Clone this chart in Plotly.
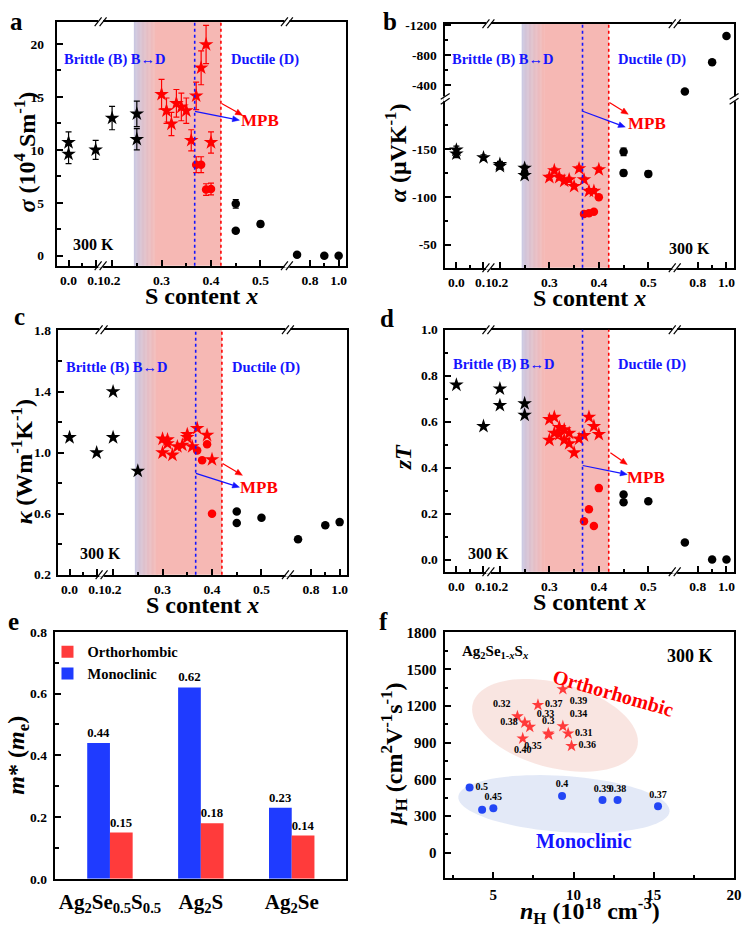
import numpy as np
import plotly.graph_objects as go

W, H = 750, 936
FONT = "Liberation Serif"
RED = "#FF0000"
BLUE = "#1414FF"
PINK = (246, 184, 180)
LAV = (198, 200, 228)

# ---------------- data (panel a: sigma, 10^4 S/m) ----------------
sig_bstar_x = [0.0, 0.0, 0.1, 0.2, 0.25, 0.25]
sig_bstar_y = [10.7, 9.6, 10.0, 13.0, 13.4, 11.0]
sig_bstar_e = [1.0, 0.9, 0.9, 1.1, 1.2, 1.0]
sig_rstar_x = [0.30, 0.31, 0.32, 0.33, 0.34, 0.35, 0.36, 0.37, 0.38, 0.39, 0.40]
sig_rstar_y = [15.25, 13.7, 12.45, 14.4, 14.05, 13.7, 10.9, 15.1, 17.75, 19.95, 10.7]
sig_rstar_e = [1.4, 1.2, 1.1, 1.3, 1.3, 1.2, 1.0, 1.3, 1.6, 1.8, 1.0]
sig_rcirc_x = [0.37, 0.38, 0.39, 0.40]
sig_rcirc_y = [8.6, 8.6, 6.25, 6.3]
sig_rcirc_e = [0.75, 0.75, 0.55, 0.55]
sig_bcirc_x = [0.45, 0.45, 0.5, 0.71, 0.9, 1.0]
sig_bcirc_y = [4.9, 2.35, 3.0, 0.1, 0.0, 0.0]
sig_bcirc_e = [0.4, 0.2, 0.25, 0.0, 0.0, 0.0]

# ---------------- panel b: alpha (uV/K) ----------------
alp_bstar_x = [0.0, 0.0, 0.1, 0.2, 0.2, 0.25, 0.25]
alp_bstar_y = [-149, -145, -141, -134, -132, -130, -122.5]
alp_bstar_e = [4, 4, 3, 3, 3, 3, 3]
alp_rstar_x = [0.30, 0.31, 0.32, 0.33, 0.34, 0.35, 0.36, 0.37, 0.38, 0.39, 0.40]
alp_rstar_y = [-120.5, -127.5, -120.5, -116.5, -118, -111, -129.5, -118, -106, -106, -128.5]
alp_rstar_e = [2.5] * 11
alp_rcirc_x = [0.37, 0.38, 0.39, 0.40]
alp_rcirc_y = [-82, -83, -84.5, -99.5]
alp_bcirc_x = [0.45, 0.45, 0.5, 0.71, 0.9, 1.0]
alp_bcirc_y = [-147, -125, -124, -315, -705, -1056]
alp_bcirc_e = [4, 3, 3, 0, 0, 0]

# ---------------- panel c: kappa (W/mK) ----------------
kap_bstar_x = [0.0, 0.1, 0.2, 0.2, 0.25]
kap_bstar_y = [1.10, 1.00, 1.40, 1.10, 0.88]
kap_rstar_x = [0.30, 0.30, 0.31, 0.31, 0.32, 0.33, 0.34, 0.35, 0.35, 0.36, 0.37, 0.39, 0.40]
kap_rstar_y = [1.09, 1.00, 1.085, 1.06, 0.985, 1.04, 1.05, 1.12, 1.10, 1.04, 1.16, 1.115, 0.955]
kap_rcirc_x = [0.37, 0.38, 0.39, 0.40]
kap_rcirc_y = [1.015, 0.95, 1.056, 0.60]
kap_bcirc_x = [0.45, 0.45, 0.5, 0.71, 0.9, 1.0]
kap_bcirc_y = [0.614, 0.54, 0.573, 0.433, 0.524, 0.545]

# ---------------- panel d: zT ----------------
zt_bstar_x = [0.0, 0.1, 0.2, 0.2, 0.25, 0.25]
zt_bstar_y = [0.76, 0.58, 0.743, 0.671, 0.679, 0.629]
zt_rstar_x = [0.30, 0.30, 0.31, 0.31, 0.32, 0.32, 0.33, 0.33, 0.34, 0.34, 0.35, 0.36, 0.37, 0.38, 0.39, 0.40]
zt_rstar_y = [0.61, 0.52, 0.62, 0.55, 0.575, 0.545, 0.565, 0.52, 0.55, 0.505, 0.465, 0.525, 0.54, 0.62, 0.58, 0.545]
zt_rcirc_x = [0.37, 0.38, 0.39, 0.40]
zt_rcirc_y = [0.167, 0.219, 0.146, 0.311]
zt_bcirc_x = [0.45, 0.45, 0.5, 0.71, 0.9, 1.0]
zt_bcirc_y = [0.283, 0.25, 0.254, 0.074, 0.0, 0.0]

# ---------------- panel e: effective mass ----------------
e_cats = ["Ag<sub>2</sub>Se<sub>0.5</sub>S<sub>0.5</sub>", "Ag<sub>2</sub>S", "Ag<sub>2</sub>Se"]
e_mono = [0.44, 0.62, 0.23]
e_ortho = [0.15, 0.18, 0.14]

# ---------------- panel f: mobility vs carrier conc. ----------------
f_o_lab = ["0.39", "0.37", "0.32", "0.38", "0.33", "0.3", "0.35", "0.34", "0.31", "0.40", "0.36"]
f_o_n = [9.33, 7.78, 6.50, 6.96, 7.27, 8.42, 8.45, 9.33, 9.66, 6.83, 9.87]
f_o_mu = [1338, 1209, 1115, 1064, 1029, 975, 965, 1035, 975, 934, 873]
f_m_lab = ["0.5", "", "0.45", "0.4", "0.39", "0.38", "0.37"]
f_m_n = [3.52, 4.30, 5.0, 9.28, 11.8, 12.74, 15.26]
f_m_mu = [532, 351, 363, 464, 430, 430, 379]

# x-axis tick values (S content) and region boundaries
x_major = [0.0, 0.1, 0.2, 0.3, 0.4, 0.5, 0.8, 1.0]
x_major_txt = ["0.0", "0.1", "0.2", "0.3", "0.4", "0.5", "0.8", "1.0"]
x_minor = [0.05, 0.25, 0.35, 0.45, 0.9]
grad_start, grad_end, mpb_blue, mpb_red = 0.244, 0.29, 0.367, 0.42


# ---------------- broken-axis scales ----------------
def xmap(x):
    x = np.asarray(x, float)
    return np.where(x < 0.15, 11.3 + x * 274.0,
                    np.where(x < 0.6, 55.3 + (x - 0.2) * 500.0, 255.3 + (x - 0.8) * 145.0))


def ymap_b(y):
    y = np.asarray(y, float)
    return np.where(y < -209, 1.6 + (y + 1200) * 0.0759, 127.3 + (y + 150) * 0.973)


frames = {1: (58, 15, 292, 248), 2: (450, 17, 292, 248), 3: (59, 328, 292, 249),
          4: (450, 328, 292, 246), 5: (56, 635, 294, 251), 6: (450, 635, 292, 250)}


def dom(n):
    l, t, w, h = frames[n]
    return [l / W, (l + w) / W], [1 - (t + h) / H, 1 - t / H]


def nm(n):
    return "" if n == 1 else str(n)


fig = go.Figure()


def scat(n, x, y, sym, color, size, err=None, ymapf=None, escale=1.0):
    yy = ymapf(y) if ymapf else y
    kw = {}
    if err is not None:
        kw["error_y"] = dict(type="data", array=np.asarray(err) * escale, visible=True,
                             color=color, thickness=1.2, width=3)
    fig.add_trace(go.Scatter(x=xmap(x), y=yy, mode="markers",
                             marker=dict(symbol=sym, color=color, size=size, line=dict(width=0)),
                             xaxis="x" + nm(n), yaxis="y" + nm(n), showlegend=False,
                             cliponaxis=False, **kw))


STAR, CIRC = 11, 8.5
# a
scat(1, sig_bcirc_x, sig_bcirc_y, "circle", "black", CIRC, sig_bcirc_e)
scat(1, sig_rcirc_x, sig_rcirc_y, "circle", RED, CIRC, sig_rcirc_e)
scat(1, sig_rstar_x, sig_rstar_y, "star", RED, STAR, sig_rstar_e)
scat(1, sig_bstar_x, sig_bstar_y, "star", "black", STAR, sig_bstar_e)
# b
scat(2, alp_bcirc_x, alp_bcirc_y, "circle", "black", CIRC, alp_bcirc_e, ymap_b, 0.973)
scat(2, alp_rcirc_x, alp_rcirc_y, "circle", RED, CIRC, None, ymap_b)
scat(2, alp_rstar_x, alp_rstar_y, "star", RED, STAR, alp_rstar_e, ymap_b, 0.973)
scat(2, alp_bstar_x, alp_bstar_y, "star", "black", STAR, alp_bstar_e, ymap_b, 0.973)
# c
scat(3, kap_bcirc_x, kap_bcirc_y, "circle", "black", CIRC)
scat(3, kap_rcirc_x, kap_rcirc_y, "circle", RED, CIRC)
scat(3, kap_rstar_x, kap_rstar_y, "star", RED, STAR)
scat(3, kap_bstar_x, kap_bstar_y, "star", "black", STAR)
# d
scat(4, zt_bcirc_x, zt_bcirc_y, "circle", "black", CIRC)
scat(4, zt_rcirc_x, zt_rcirc_y, "circle", RED, CIRC)
scat(4, zt_rstar_x, zt_rstar_y, "star", RED, STAR)
scat(4, zt_bstar_x, zt_bstar_y, "star", "black", STAR)

# e bars
BAR_BLUE, BAR_RED = "#1F3BFF", "#FF3B3B"
tf_bar = dict(family=FONT, size=13, color="black", weight="bold")
fig.add_trace(go.Bar(x=e_cats, y=e_mono, name="Monoclinic", marker=dict(color=BAR_BLUE, line=dict(width=0)),
                     texttemplate="%{y:.2f}", textposition="outside", textfont=tf_bar,
                     xaxis="x5", yaxis="y5", legendrank=2, cliponaxis=False))
fig.add_trace(go.Bar(x=e_cats, y=e_ortho, name="Orthorhombic", marker=dict(color=BAR_RED, line=dict(width=0)),
                     texttemplate="%{y:.2f}", textposition="outside", textfont=tf_bar,
                     xaxis="x5", yaxis="y5", legendrank=1, cliponaxis=False))

# f scatter
lab_font = dict(family=FONT, size=10, color="black", weight="bold")
f_o_pos = ["bottom right", "middle right", "top left", "middle left", "top right", "top center",
           "bottom left", "top right", "middle right", "bottom center", "middle right"]
f_m_pos = ["middle right", "top center", "top center", "top center", "top center", "top center", "top center"]
fig.add_trace(go.Scatter(x=f_o_n, y=f_o_mu, mode="markers+text", text=f_o_lab, textposition=f_o_pos,
                         textfont=lab_font, marker=dict(symbol="star", size=9.5, color="#FF3B3B", line=dict(width=0)),
                         xaxis="x6", yaxis="y6", showlegend=False, cliponaxis=False))
fig.add_trace(go.Scatter(x=f_m_n, y=f_m_mu, mode="markers+text", text=f_m_lab, textposition=f_m_pos,
                         textfont=lab_font, marker=dict(symbol="circle", size=8, color="#2346F5", line=dict(width=0)),
                         xaxis="x6", yaxis="y6", showlegend=False, cliponaxis=False))

# ---------------- axes ----------------
tickfont = dict(family=FONT, size=13.5, color="black", weight="bold")
base = dict(showline=True, linewidth=1.5, linecolor="black", mirror=True, ticks="inside", ticklen=6,
            tickwidth=1.5, tickcolor="black", showgrid=False, zeroline=False, tickfont=tickfont, tickangle=0)


def minor(vals):
    return dict(tickmode="array", tickvals=list(vals), ticks="inside", ticklen=3.5, tickwidth=1.5,
                tickcolor="black", showgrid=False)


lay = {}
for n in range(1, 5):
    xd, yd = dom(n)
    lay["xaxis" + nm(n)] = dict(base, domain=xd, anchor="y" + nm(n), range=[0, 292], tickmode="array",
                                tickvals=list(xmap(x_major)), ticktext=x_major_txt,
                                minor=minor(xmap(x_minor)), ticklabelstandoff=1)
yd1 = dom(1)[1]
lay["yaxis"] = dict(base, domain=yd1, anchor="x", range=[-0.95, 22.1], tickmode="array",
                    tickvals=[0, 5, 10, 15, 20], minor=minor([2.5, 7.5, 12.5, 17.5]), ticklabelstandoff=9)
b_ticks = [-1200, -800, -400, -150, -100, -50]
lay["yaxis2"] = dict(base, domain=dom(2)[1], anchor="x2", range=[248, 0], tickmode="array",
                     tickvals=list(ymap_b(b_ticks)), ticktext=[str(v) for v in b_ticks],
                     minor=minor(ymap_b([-1000, -600, -175, -125, -75])), ticklabelstandoff=4)
lay["yaxis3"] = dict(base, domain=dom(3)[1], anchor="x3", range=[0.2, 1.806], tickmode="array",
                     tickvals=[0.2, 0.6, 1.0, 1.4, 1.8], tickformat=".1f",
                     minor=minor([0.4, 0.8, 1.2, 1.6]), ticklabelstandoff=3)
lay["yaxis4"] = dict(base, domain=dom(4)[1], anchor="x4", range=[-0.053, 1.0], tickmode="array",
                     tickvals=[0, 0.2, 0.4, 0.6, 0.8, 1.0], tickformat=".1f",
                     minor=minor([0.1, 0.3, 0.5, 0.7, 0.9]), ticklabelstandoff=3)
xd5, yd5 = dom(5)
lay["xaxis5"] = dict(base, domain=xd5, anchor="y5", range=[-0.6, 2.6], ticks="",
                     tickfont=dict(family=FONT, size=21, color="black", weight="bold"), ticklabelstandoff=3)
lay["yaxis5"] = dict(base, domain=yd5, anchor="x5", range=[0, 0.8], tickmode="array",
                     tickvals=[0, 0.2, 0.4, 0.6, 0.8], tickformat=".1f",
                     minor=minor([0.1, 0.3, 0.5, 0.7]), ticklabelstandoff=4)
xd6, yd6 = dom(6)
tf15 = dict(family=FONT, size=15, color="black", weight="bold")
lay["xaxis6"] = dict(base, domain=xd6, anchor="y6", range=[2, 20], tickmode="array", tickvals=[5, 10, 15, 20],
                     minor=minor([2.5, 7.5, 12.5, 17.5]), tickfont=tf15, ticklabelstandoff=2)
lay["yaxis6"] = dict(base, domain=yd6, anchor="x6", range=[-207, 1808], tickmode="array",
                     tickvals=[0, 300, 600, 900, 1200, 1500, 1800],
                     minor=minor([150, 450, 750, 1050, 1350, 1650]), tickfont=tf15, ticklabelstandoff=4)

# ---------------- shapes ----------------
shapes = []


def mix(c1, c2, t):
    return "rgb(%d,%d,%d)" % tuple(round(a + (b - a) * t) for a, b in zip(c1, c2))


for n in range(1, 5):
    xr = "x" + nm(n)
    yr = "y" + nm(n) + " domain"
    u0, u1 = float(xmap(grad_start)), float(xmap(grad_end))
    N = 28
    for i in range(N):
        t = (i + 0.5) / N
        shapes.append(dict(type="rect", xref=xr, yref=yr, x0=u0 + (u1 - u0) * i / N,
                           x1=u0 + (u1 - u0) * (i + 1) / N + 0.4, y0=0, y1=1,
                           fillcolor=mix(LAV, PINK, t ** 0.8), line=dict(width=0), layer="below"))
    shapes.append(dict(type="rect", xref=xr, yref=yr, x0=u1, x1=float(xmap(mpb_red)), y0=0, y1=1,
                       fillcolor="rgb(%d,%d,%d)" % PINK, line=dict(width=0), layer="below"))
    shapes.append(dict(type="line", xref=xr, yref=yr, x0=float(xmap(mpb_blue)), x1=float(xmap(mpb_blue)),
                       y0=0, y1=1, line=dict(color=BLUE, width=1.6, dash="dot"), layer="above"))
    shapes.append(dict(type="line", xref=xr, yref=yr, x0=float(xmap(mpb_red)), x1=float(xmap(mpb_red)),
                       y0=0, y1=1, line=dict(color=RED, width=1.6, dash="dot"), layer="above"))


def P(x, y):
    return x / W, 1 - y / H


def hbreak(cx, cy):
    x0, y0 = P(cx - 2.5, cy - 2)
    x1, y1 = P(cx + 2.5, cy + 2)
    shapes.append(dict(type="rect", xref="paper", yref="paper", x0=x0, x1=x1, y0=y0, y1=y1,
                       fillcolor="white", line=dict(width=0), layer="above"))
    for dx in (-2.5, 2.5):
        a0, b0 = P(cx + dx - 3.5, cy + 4.5)
        a1, b1 = P(cx + dx + 3.5, cy - 4.5)
        shapes.append(dict(type="line", xref="paper", yref="paper", x0=a0, y0=b0, x1=a1, y1=b1,
                           line=dict(color="black", width=1.2), layer="above"))


def vbreak(cx, cy):
    x0, y0 = P(cx - 2, cy - 2.5)
    x1, y1 = P(cx + 2, cy + 2.5)
    shapes.append(dict(type="rect", xref="paper", yref="paper", x0=x0, x1=x1, y0=y0, y1=y1,
                       fillcolor="white", line=dict(width=0), layer="above"))
    for dy in (-2.5, 2.5):
        a0, b0 = P(cx - 4.5, cy + dy + 3)
        a1, b1 = P(cx + 4.5, cy + dy - 3)
        shapes.append(dict(type="line", xref="paper", yref="paper", x0=a0, y0=b0, x1=a1, y1=b1,
                           line=dict(color="black", width=1.2), layer="above"))


for n in range(1, 5):
    l, t, w, h = frames[n]
    for u in (43.7, 232.0):
        hbreak(l + u, t)
        hbreak(l + u, t + h)
l, t, w, h = frames[2]
vbreak(l, t + 76.3)
vbreak(l + w, t + 76.3)


def arrow(x0, y0, x1, y1, color):
    d = np.array([x1 - x0, y1 - y0], float)
    d /= np.hypot(*d)
    nrm = np.array([-d[1], d[0]])
    tip = np.array([x1, y1], float)
    base_c = tip - 7 * d
    lft, rgt = base_c + 3 * nrm, base_c - 3 * nrm
    a0, b0 = P(x0, y0)
    a1, b1 = P(*base_c)
    shapes.append(dict(type="line", xref="paper", yref="paper", x0=a0, y0=b0, x1=a1, y1=b1,
                       line=dict(color=color, width=1.2), layer="above"))
    pts = [P(*tip), P(*lft), P(*rgt)]
    path = "M%.5f,%.5fL%.5f,%.5fL%.5f,%.5fZ" % (pts[0] + pts[1] + pts[2])
    shapes.append(dict(type="path", xref="paper", yref="paper", path=path, fillcolor=color,
                       line=dict(color=color, width=0.5), layer="above"))


def ellipse_path(cx, cy, a, b, ang_deg, n=90):
    tt = np.linspace(0, 2 * np.pi, n, endpoint=False)
    ang = np.radians(ang_deg)
    xs = cx + a * np.cos(tt) * np.cos(ang) - b * np.sin(tt) * np.sin(ang)
    ys = cy + a * np.cos(tt) * np.sin(ang) + b * np.sin(tt) * np.cos(ang)
    pts = ["%.5f,%.5f" % P(x, y) for x, y in zip(xs, ys)]
    return "M" + "L".join(pts) + "Z"


shapes.append(dict(type="path", xref="paper", yref="paper", path=ellipse_path(561, 730, 86, 43, 15),
                   fillcolor="rgba(248,226,222,0.9)", line=dict(width=0), layer="below"))
shapes.append(dict(type="path", xref="paper", yref="paper", path=ellipse_path(570, 810, 107, 28.5, 4),
                   fillcolor="rgba(224,231,246,0.9)", line=dict(width=0), layer="below"))

# ---------------- annotations ----------------
anns = []


def ann(text, x, y, size, color="black", xanchor="center", yanchor="middle", angle=0):
    xx, yy = P(x, y)
    anns.append(dict(text="<b>%s</b>" % text, x=xx, y=yy, xref="paper", yref="paper", showarrow=False,
                     font=dict(family=FONT, size=size, color=color), xanchor=xanchor, yanchor=yanchor,
                     textangle=angle))


panel_txt = {
    1: dict(brit=(5, 38), duct=(210, 38), k300=(37, 226), mpb=(205, 100),
            ra=((166, 83), (187, 95)), ba=((139, 91), (184, 100))),
    2: dict(brit=(5, 36), duct=(209, 36), k300=(247, 228), mpb=(204, 101),
            ra=((166, 80), (185, 92)), ba=((139, 89), (182, 105))),
    3: dict(brit=(6, 38.7), duct=(210, 38.7), k300=(43, 227), mpb=(203, 160),
            ra=((166, 136), (186, 148)), ba=((139, 146), (183, 160))),
    4: dict(brit=(6, 35.3), duct=(209, 35.3), k300=(44, 227), mpb=(203, 150),
            ra=((167, 125), (184, 137)), ba=((139, 138), (184, 147))),
}
for n, d in panel_txt.items():
    l, t, w, h = frames[n]
    ann("Brittle (B) B↔D", l + d["brit"][0], t + d["brit"][1], 14.5, BLUE, xanchor="left")
    ann("Ductile (D)", l + d["duct"][0], t + d["duct"][1], 14.5, BLUE)
    ann("300 K", l + d["k300"][0], t + d["k300"][1], 16)
    ann("MPB", l + d["mpb"][0], t + d["mpb"][1], 17, RED)
    (a0, a1) = d["ra"]
    arrow(l + a0[0], t + a0[1], l + a1[0], t + a1[1], RED)
    (b0, b1) = d["ba"]
    arrow(l + b0[0], t + b0[1], l + b1[0], t + b1[1], BLUE)

# panel letters
for ch, (x, y) in zip("abcdef", [(16.5, 14.5), (394, 14.7), (20, 314.7), (391.5, 316.4), (13.3, 624.7), (388, 624.7)]):
    ann(ch, x, y, 25)

# axis titles
TS = 24
for n in range(1, 5):
    l, t, w, h = frames[n]
    ann("S content <i>x</i>", l + w / 2, t + h + 31, TS)
ann("<i>σ</i> (10<sup>4</sup> Sm<sup>-1</sup>)", 25, 147, TS, angle=-90)
ann("<i>α</i> (μVK<sup>-1</sup>)", 400, 148, TS, angle=-90)
ann("<i>κ</i> (Wm<sup>-1</sup>K<sup>-1</sup>)", 22, 462, TS, angle=-90)
ann("<i>zT</i>", 407, 458, TS, angle=-90)
ann("<i>m</i>* (<i>m</i><sub>e</sub>)", 18, 760, TS, angle=-90)
ann("<i>μ</i><sub>H</sub> (cm<sup>2</sup>V<sup>-1</sup>s<sup>-1</sup>)", 398, 760, TS, angle=-90)
ann("<i>n</i><sub>H</sub> (10<sup>18</sup> cm<sup>-3</sup>)", 596, 919, TS)

# panel f texts
ann("Ag<sub>2</sub>Se<sub>1-<i>x</i></sub>S<sub><i>x</i></sub>", 465, 655, 15, xanchor="left")
ann("300 K", 697, 660, 18)
ann("Orthorhombic", 620, 697, 20, RED, angle=16)
ann("Monoclinic", 590, 848, 20, BLUE)

lay.update(dict(
    width=W, height=H, margin=dict(l=0, r=0, t=0, b=0),
    paper_bgcolor="white", plot_bgcolor="rgba(0,0,0,0)",
    font=dict(family=FONT, color="black"),
    barmode="group", bargap=0.5, bargroupgap=0,
    showlegend=True,
    legend=dict(x=48 / W, y=1 - 639 / H, xanchor="left", yanchor="top", bgcolor="rgba(0,0,0,0)",
                font=dict(family=FONT, size=14.5, color="black", weight="bold"), itemwidth=30),
    shapes=shapes, annotations=anns,
))
fig.update_layout(**lay)
fig.write_html("out.html", config={"displayModeBar": False},
               post_script="document.body.style.margin='0';document.body.style.overflow='hidden';")
